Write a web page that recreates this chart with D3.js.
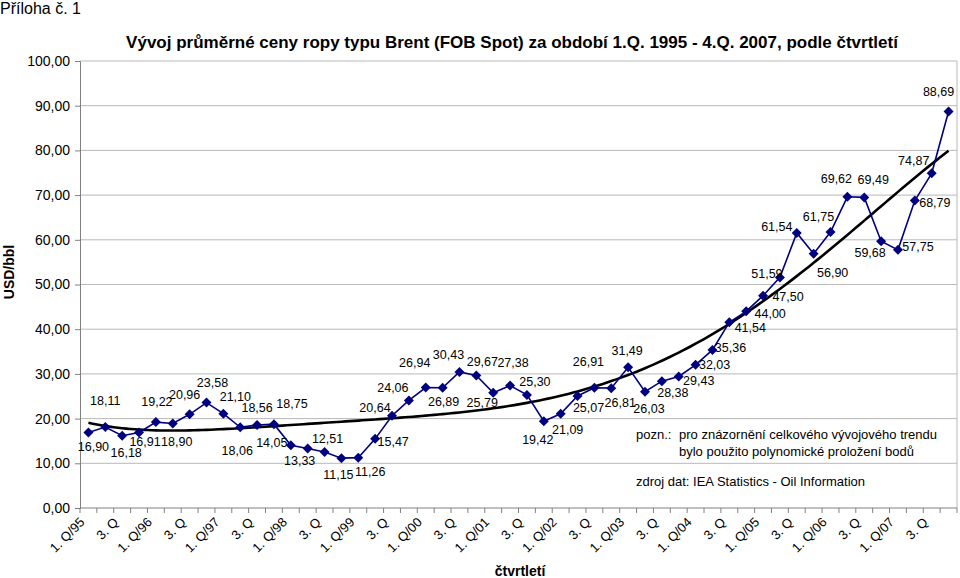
<!DOCTYPE html>
<html><head><meta charset="utf-8">
<script src="https://cdn.jsdelivr.net/npm/d3@7"></script>
<style>body{margin:0;background:#fff}svg{font-family:"Liberation Sans",Arial,sans-serif}</style>
</head><body><svg id="c" width="960" height="578"></svg>
<script>
const years=["95","96","97","98","99","00","01","02","03","04","05","06","07"];
const quarters=[];years.forEach(y=>{quarters.push("1. Q/"+y,"2. Q","3. Q","4. Q");});
const prices=[16.90,18.11,16.18,16.91,19.22,18.90,20.96,23.58,21.10,18.06,18.56,18.75,
14.05,13.33,12.51,11.15,11.26,15.47,20.64,24.06,26.94,26.89,30.43,29.67,
25.79,27.38,25.30,19.42,21.09,25.07,26.91,26.81,31.49,26.03,28.38,29.43,
32.03,35.36,41.54,44.00,47.50,51.59,61.54,56.90,61.75,69.62,69.49,59.68,
57.75,68.79,74.87,88.69];
const yTicks=[0,10,20,30,40,50,60,70,80,90,100];
const trendOrder=5;
// label placement offsets (text centre relative to point)
const labelOffsets=[[5,14],[0,-27],[4,17],[6,9],[1,-21],[4,18],[-5,-20],[6,-20],[12,-17],[-3,23],[0,-18],[18,-21],
[-19,-3],[-8,12],[3,-14],[-3,16],[12,14],[18,3],[-17,-8],[-16,-13],[-11,-25],[1,14],[-11,-17],[6,-14],
[-11,10],[3,-23],[8,-13],[-6,18],[7,16],[11,12],[-6,-26],[9,14],[-1,-17],[4,17],[11,11],[20,4],[19,0],[18,-2],[21,5],[24,2],[25,1],[-13,-4],[-20,-6],[19,19],[-12,-15],[-11,-18],[9,-18],[-11,11],[20,-3],[20,2],[-18,-13],[-10,-20]];

const svg=d3.select("#c");
const L=80,R=957,T=61,B=508;
const x=d3.scaleBand().domain(d3.range(prices.length)).range([L,R]);
const cx=i=>x(i)+x.bandwidth()/2;
const y=d3.scaleLinear().domain([0,100]).range([B,T]);

svg.append("text").attr("x",0).attr("y",14).attr("font-size",16).text("Příloha č. 1");
svg.append("text").attr("x",512).attr("y",48).attr("text-anchor","middle").attr("font-size",17).attr("font-weight","bold")
 .text("Vývoj průměrné ceny ropy typu Brent (FOB Spot) za období  1.Q. 1995  - 4.Q.  2007, podle čtvrtletí");

// grid
svg.append("g").selectAll("line").data(yTicks.filter(d=>d>0)).join("line")
 .attr("x1",L).attr("x2",R).attr("y1",d=>y(d)).attr("y2",d=>y(d)).attr("stroke","#b8b8b8").attr("stroke-width",1);
svg.append("line").attr("x1",R).attr("x2",R).attr("y1",T).attr("y2",B).attr("stroke","#b8b8b8");

// y axis
const ya=svg.append("g").attr("transform",`translate(${L},0)`).call(d3.axisLeft(y).tickValues(yTicks).tickSize(5).tickFormat(d=>d3.format(".2f")(d).replace(".",",")));
ya.selectAll("text").attr("font-size",14).attr("fill","#000").attr("font-family","Liberation Sans, Arial").attr("dx",-2);
ya.select(".domain").attr("stroke","#808080");ya.selectAll(".tick line").attr("stroke","#808080");

// x axis
const xa=svg.append("g").attr("transform",`translate(0,${B})`);
xa.append("line").attr("x1",L).attr("x2",R).attr("stroke","#808080");
xa.selectAll(".tk").data(d3.range(prices.length+1)).join("line").attr("class","tk")
 .attr("x1",i=>L+i*x.step()).attr("x2",i=>L+i*x.step()).attr("y1",0).attr("y2",5).attr("stroke","#808080");
xa.selectAll(".lb").data(d3.range(0,prices.length,2)).join("text").attr("class","lb")
 .attr("transform",i=>`translate(${cx(i)-3},${15}) rotate(-45)`).attr("text-anchor","end").attr("font-size",13)
 .text(i=>quarters[i]);

svg.append("text").attr("transform","translate(14,272) rotate(-90)").attr("text-anchor","middle").attr("font-size",14).attr("font-weight","bold").text("USD/bbl");
svg.append("text").attr("x",520).attr("y",576).attr("text-anchor","middle").attr("font-size",14).attr("font-weight","bold").text("čtvrtletí");

// polynomial trend (least squares)
function polyfit(xs,ys,deg){const n=deg+1;const A=[];for(let r=0;r<n;r++){A.push(new Array(n+1).fill(0));}
 xs.forEach((xv,k)=>{for(let r=0;r<n;r++){for(let c=0;c<n;c++)A[r][c]+=Math.pow(xv,r+c);A[r][n]+=ys[k]*Math.pow(xv,r);}});
 for(let i=0;i<n;i++){let m=i;for(let j=i+1;j<n;j++)if(Math.abs(A[j][i])>Math.abs(A[m][i]))m=j;[A[i],A[m]]=[A[m],A[i]];
  for(let j=i+1;j<n;j++){const f=A[j][i]/A[i][i];for(let c=i;c<=n;c++)A[j][c]-=f*A[i][c];}}
 const co=new Array(n).fill(0);for(let i=n-1;i>=0;i--){let s=A[i][n];for(let c=i+1;c<n;c++)s-=A[i][c]*co[c];co[i]=s/A[i][i];}return co;}
const N=prices.length;
const xs=prices.map((d,i)=>(i+1)/N);
const co=polyfit(xs,prices,trendOrder);
const f=t=>co.reduce((s,c,k)=>s+c*Math.pow(t,k),0);
const tp=d3.range(0,N-1+0.01,0.25);
svg.append("path").datum(tp).attr("fill","none").attr("stroke","#000").attr("stroke-width",2.6)
 .attr("d",d3.line().x(t=>L+(t+0.5)*x.step()).y(t=>y(f((t+1)/N))));

// series
svg.append("path").datum(prices).attr("fill","none").attr("stroke","#000080").attr("stroke-width",1.6)
 .attr("d",d3.line().x((d,i)=>cx(i)).y(d=>y(d)));
svg.append("g").selectAll("path").data(prices).join("path")
 .attr("transform",(d,i)=>`translate(${cx(i)},${y(d)})`).attr("d","M0,-5L5,0L0,5L-5,0Z").attr("fill","#000080");
svg.append("g").selectAll("text").data(prices).join("text")
 .attr("x",(d,i)=>cx(i)+labelOffsets[i][0]).attr("y",(d,i)=>y(d)+labelOffsets[i][1]+4.5)
 .attr("text-anchor","middle").attr("font-size",12.5).text(d=>d3.format(".2f")(d).replace(".",","));

svg.append("text").attr("x",636).attr("y",439).attr("font-size",13).text("pozn.:");
svg.append("text").attr("x",679).attr("y",439).attr("font-size",13).text("pro znázornění celkového vývojového trendu");
svg.append("text").attr("x",679).attr("y",456).attr("font-size",13).text("bylo použito polynomické proložení bodů");
svg.append("text").attr("x",636).attr("y",486).attr("font-size",13).text("zdroj dat:  IEA Statistics - Oil Information");
</script></body></html>
